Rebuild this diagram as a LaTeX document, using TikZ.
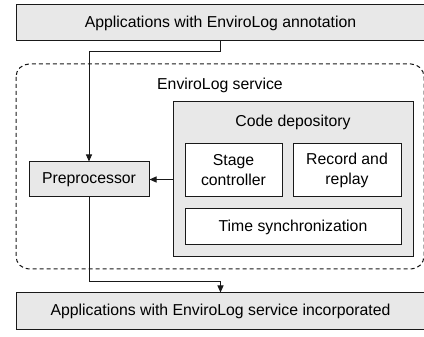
\documentclass[tikz,border=0pt]{standalone}
\usepackage{fontspec}
\setmainfont{Liberation Sans}
\usepackage{tikz}
\usetikzlibrary{arrows.meta,positioning}
\definecolor{boxgray}{RGB}{232,232,232}
\tikzset{
  graybox/.style={ draw=black!90, fill=boxgray, line width=1pt, inner sep=0pt }
}
\tikzset{
  whitebox/.style={ draw=black!90, fill=white, line width=1pt, inner sep=0pt, align=center }
}
\tikzset{
  flow/.style={ draw=black!90, line width=0.9pt, -{Triangle[length=7pt,width=6pt]} }
}
\begin{document}
\begin{tikzpicture}[x=1pt, y=-1pt, font=\fontsize{15.8}{20}\selectfont]
      \useasboundingbox (0,0) rectangle (424,337);
      \node[graybox, minimum width=409, minimum height=36] (top) at (220.5, 23) {Applications with EnviroLog annotation};
      \draw[dash pattern=on 4pt off 3pt, line width=1pt, draw=black!90, rounded corners=13pt] (16,64) rectangle (424,269);
      \node (svc) at (220, 85) {EnviroLog service};
      \node[graybox, minimum width=240, minimum height=155] (code) at (293, 179.5) {};
      \node (codelbl) at (293, 122) {Code depository};
      \node[whitebox, minimum width=97, minimum height=53] (stage) at (233.5, 170.5) {Stage\\controller};
      \node[whitebox, minimum width=108, minimum height=53] (record) at (347, 170.5) {Record and\\replay};
      \node[whitebox, minimum width=216, minimum height=36] (time) at (293, 227) {Time synchronization};
      \node[graybox, minimum width=120, minimum height=35] (pre) at (89, 179.5) {Preprocessor};
      \node[graybox, minimum width=409, minimum height=36] (bot) at (220.5, 311) {Applications with EnviroLog service incorporated};
      \coordinate (split) at (89, 51); %turning point below top box%
      \coordinate (join) at (89, 281); %turning point above bottom box%
      \draw[flow] (top.south) |- (split) -- (pre.north);
      \draw[flow] (code.west) -- (pre.east);
      \draw[flow] (pre.south) -- (join) -| (bot.north);
    \end{tikzpicture}
\end{document}
